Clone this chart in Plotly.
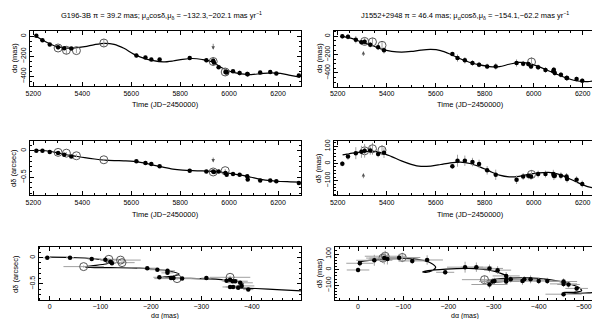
import plotly.graph_objects as go

W, H = 600, 319
FONT = "Liberation Sans"

# ---------------- G196-3B : data ----------------
g_t = [5212, 5237, 5267, 5301, 5326, 5355, 5621, 5658, 5682, 5716, 5839, 5907, 5935,
       5938, 5957, 5985, 5990, 6016, 6043, 6074, 6076, 6127, 6168, 6193, 6285]
g_ra = [5, -40, -83, -110, -120, -123, -193, -213, -233, -233, -217, -240, -245,
        -262, -310, -357, -362, -350, -367, -377, -380, -363, -357, -373, -393]
g_dec = [0.0, 0.0, -0.025, -0.04, -0.075, -0.106, -0.2, -0.23, -0.25, -0.29, -0.375, -0.39, -0.39,
         -0.40, -0.39, -0.42, -0.45, -0.44, -0.45, -0.48, -0.54, -0.56, -0.56, -0.575, -0.61]
g_era = [8, 8, 8, 8, 8, 8, 20, 15, 15, 12, 12, 20, 20, 20, 10, 15, 15, 10, 25, 25, 25, 15, 15, 15, 10]
g_edec = [0.01] * 25

g_ot = [5301, 5335, 5376, 5488, 5935, 5984]
g_ora = [-117, -140, -143, -67, -252, -357]
g_odec = [-0.03, -0.045, -0.094, -0.17, -0.40, -0.375]
g_oera = [20, 40, 25, 40, 45, 40]
g_oedec = [0.02, 0.02, 0.03, 0.02, 0.02, 0.03]

# G196-3B fitted curve
gc_t = [5210, 5250, 5290, 5330, 5370, 5410, 5450, 5490, 5530, 5570, 5610, 5650, 5690, 5730,
        5770, 5810, 5850, 5890, 5930, 5970, 6010, 6050, 6090, 6130, 6170, 6210, 6250, 6290]
gc_ra = [0, -55, -98, -116, -117, -104, -83, -70, -80, -120, -178, -218, -244, -256,
         -247, -230, -222, -232, -255, -315, -356, -375, -383, -373, -365, -371, -390, -408]
gc_dec = [0.01, 0.0, -0.03, -0.07, -0.10, -0.13, -0.155, -0.175, -0.185, -0.19, -0.20, -0.23, -0.27, -0.31,
          -0.345, -0.365, -0.375, -0.38, -0.39, -0.405, -0.43, -0.46, -0.50, -0.54, -0.565, -0.58, -0.585, -0.59]
gc_ext_ra = [-450, -498]
gc_ext_dec = [-0.61, -0.635]

# ---------------- J1552+2948 : data ----------------
j_t = [5219, 5242, 5274, 5297, 5310, 5333, 5365, 5389, 5668, 5689, 5719, 5750, 5777, 5810, 5845,
       5930, 5957, 5978, 5989, 6018, 6048, 6080, 6082, 6086, 6111, 6134, 6136, 6175, 6198, 6291]
j_ra = [0, -4, -36, -65, -58, -91, -120, -153, -193, -237, -262, -291, -309, -328, -328,
        -291, -298, -302, -328, -338, -368, -382, -364, -400, -419, -455, -455, -466, -484, -455]
j_dec = [-2, 41, 60, 68, 74, 76, 56, 62, -17, 16, 16, 8, -3, -40, -66,
         -95, -76, -72, -76, -62, -62, -62, -72, -72, -72, -76, -91, -95, -120, -157]
j_era = [25, 30, 40, 30, 40, 30, 30, 35, 20, 40, 35, 30, 30, 30, 35,
         40, 30, 30, 30, 30, 30, 30, 30, 30, 30, 30, 30, 25, 25, 40]
j_edec = [15, 20, 35, 35, 40, 25, 20, 30, 15, 35, 30, 25, 25, 25, 30,
          25, 20, 20, 20, 20, 20, 25, 25, 20, 20, 20, 20, 20, 20, 15]

j_ot = [5310, 5342, 5381, 5991]
j_ora = [-55, -60, -98, -280]
j_odec = [74, 86, 78, -64]
j_oera = [30, 45, 40, 50]
j_oedec = [30, 35, 30, 25]

jc_t = [5220, 5260, 5300, 5340, 5380, 5420, 5460, 5500, 5540, 5580, 5620, 5660, 5700, 5740,
        5780, 5820, 5860, 5900, 5940, 5980, 6020, 6060, 6100, 6140, 6180, 6220, 6260, 6297]
jc_ra = [0, -25, -65, -100, -140, -163, -172, -165, -150, -143, -155, -195, -245, -285,
         -312, -330, -330, -305, -285, -295, -330, -375, -420, -460, -488, -495, -478, -455]
jc_dec = [50, 60, 68, 72, 62, 40, 15, -5, -17, -15, -6, 4, 8, 0,
          -20, -45, -68, -78, -75, -64, -55, -52, -62, -85, -112, -135, -145, -145]
jc_ext_ra = [-480, -510, -549]
jc_ext_dec = [-152, -148, -140]

# arrows (marked epochs)
g_arrow_t = 5935
g_arrow_ra = [-135, -60]      # head, tail
g_arrow_dec = [-0.22, -0.10]
j_arrow_t = 5305
j_arrow_ra = [-160, -230]
j_arrow_dec = [-56, -95]

titles = ["G196-3B \u03c0 = 39.2 mas; \u03bc<sub>\u03b1</sub>cos\u03b4,\u03bc<sub>\u03b4</sub> = \u2212132.3,\u2212202.1 mas yr<sup>\u22121</sup>",
          "J1552+2948 \u03c0 = 46.4 mas; \u03bc<sub>\u03b1</sub>cos\u03b4,\u03bc<sub>\u03b4</sub> = \u2212154.1,\u221262.2 mas yr<sup>\u22121</sup>"]

# ---------------- layout geometry (pixels) ----------------
def X(px):
    return px / W

def Y(py):
    return 1 - py / H

boxes = {
    1: ((21.7, 293.3), (22.7, 78.3)),
    2: ((326, 598), (22.7, 78.7)),
    3: ((21.7, 293.3), (132.7, 187.3)),
    4: ((326, 598), (132.7, 187.3)),
    5: ((30.7, 293.3), (239, 292)),
    6: ((327, 598), (239, 291.5)),
}

fig = go.Figure()

GREY = "#a0a0a0"

def ax(i):
    return ("x" if i == 1 else f"x{i}"), ("y" if i == 1 else f"y{i}")

def curve(i, x, y):
    xa, ya = ax(i)
    fig.add_trace(go.Scatter(x=x, y=y, mode="lines", xaxis=xa, yaxis=ya,
                             line=dict(color="black", width=1.2, shape="spline", smoothing=0.9),
                             hoverinfo="skip"))

def pts(i, x, y, ex=None, ey=None, filled=True):
    xa, ya = ax(i)
    kw = {}
    if ex is not None:
        kw["error_x"] = dict(type="data", array=ex, color=GREY, thickness=1, width=0)
    if ey is not None:
        kw["error_y"] = dict(type="data", array=ey, color=GREY, thickness=1, width=0)
    if filled:
        marker = dict(color="black", size=4.5, line=dict(width=0))
    else:
        marker = dict(color="#555", size=8, symbol="circle-open", line=dict(color="#555", width=1))
    fig.add_trace(go.Scatter(x=x, y=y, mode="markers", xaxis=xa, yaxis=ya,
                             marker=marker, **kw))

# Panel 1: G196 dα vs time
curve(1, gc_t, gc_ra)
pts(1, g_ot, g_ora, ey=g_oera, filled=False)
pts(1, g_t, g_ra, ey=g_era)
# Panel 2: J1552 dα vs time
curve(2, jc_t, jc_ra)
pts(2, j_ot, j_ora, ey=j_oera, filled=False)
pts(2, j_t, j_ra, ey=j_era)
# Panel 3: G196 dδ vs time
curve(3, gc_t, gc_dec)
pts(3, g_ot, g_odec, ey=g_oedec, filled=False)
pts(3, g_t, g_dec, ey=g_edec)
# Panel 4: J1552 dδ vs time
curve(4, jc_t, jc_dec)
pts(4, j_ot, j_odec, ey=j_oedec, filled=False)
pts(4, j_t, j_dec, ey=j_edec)
# Panel 5: G196 dδ vs dα
curve(5, gc_ra + gc_ext_ra, gc_dec + gc_ext_dec)
pts(5, g_ora, g_odec, ex=g_oera, ey=g_oedec, filled=False)
pts(5, g_ra, g_dec, ex=g_era, ey=g_edec)
# Panel 6: J1552 dδ vs dα
curve(6, jc_ra + jc_ext_ra, jc_dec + jc_ext_dec)
pts(6, j_ora, j_odec, ex=j_oera, ey=j_oedec, filled=False)
pts(6, j_ra, j_dec, ex=j_era, ey=j_edec)

tickfont = dict(family=FONT, size=7, color="black")

def axis_style(dom, rng, tick0, dtick, mdtick, yaxis=False, anchor=None):
    d = dict(domain=dom, range=rng, anchor=anchor, showline=True, linecolor="black", linewidth=1,
             mirror="ticks", ticks="inside", ticklen=4, tickwidth=1, tickcolor="black",
             showgrid=False, zeroline=False, tickfont=tickfont, tickmode="linear",
             tick0=tick0, dtick=dtick,
             minor=dict(ticks="inside", ticklen=2, tickwidth=1, tickcolor="black",
                        dtick=mdtick, tick0=tick0, showgrid=False))
    if yaxis:
        d["tickangle"] = -90
    return d

ranges = {
    1: dict(x=([5185, 6295], 5200, 200, 50), y=([-500, 56], 0, 200, 50)),
    2: dict(x=([5185, 6295], 5200, 200, 50), y=([-550, 62], 0, 200, 50)),
    3: dict(x=([5185, 6295], 5200, 200, 50), y=([-0.84, 0.19], 0, 0.5, 0.1)),
    4: dict(x=([5185, 6295], 5200, 200, 50), y=([-186, 133], 0, 100, 20)),
    5: dict(x=([22, -498], 0, 100, 20), y=([-0.81, 0.206], 0, 0.5, 0.1)),
    6: dict(x=([51, -549], 0, 100, 20), y=([-191, 145], 0, 100, 20)),
}

layout = dict(template="none", width=W, height=H, margin=dict(l=0, r=0, t=0, b=0),
              paper_bgcolor="white", plot_bgcolor="white", showlegend=False,
              font=dict(family=FONT, color="black"))

for i, ((x0, x1), (y0, y1)) in boxes.items():
    xa, ya = ax(i)
    xname = "xaxis" if i == 1 else f"xaxis{i}"
    yname = "yaxis" if i == 1 else f"yaxis{i}"
    rx, tx0, dx, mdx = ranges[i]["x"]
    ry, ty0, dy, mdy = ranges[i]["y"]
    layout[xname] = axis_style([X(x0), X(x1)], rx, tx0, dx, mdx, anchor=ya)
    layout[yname] = axis_style([Y(y1), Y(y0)], ry, ty0, dy, mdy, yaxis=True, anchor=xa)

ann = []

def text(px, py, s, angle=0, size=7.5):
    ann.append(dict(x=X(px), y=Y(py), xref="paper", yref="paper", text=s, showarrow=False,
                    textangle=angle, font=dict(family=FONT, size=size, color="black"),
                    xanchor="center", yanchor="middle", borderpad=0))

text(153, 7, titles[0], size=7.5)
text(457, 7, titles[1], size=7.5)
for i, py in [(1, 96), (2, 96), (3, 206), (4, 206)]:
    cx = (boxes[i][0][0] + boxes[i][0][1]) / 2
    text(cx, py, "Time (JD\u22122450000)")
text(157, 308, "d\u03b1 (mas)", size=7)
text(457, 308, "d\u03b1 (mas)", size=7)
text(6, 50, "d\u03b1 (mas)", angle=-90)
text(311, 50, "d\u03b1 (mas)", angle=-90)
text(6, 160, "d\u03b4 (arcsec)", angle=-90)
text(311, 160, "d\u03b4 (mas)", angle=-90)
text(7, 266, "d\u03b4 (arcsec)", angle=-90)
text(311, 265, "d\u03b4 (mas)", angle=-90)

def arrow(i, t, head, tail):
    xa, ya = ax(i)
    ann.append(dict(x=t, y=head, ax=t, ay=tail, xref=xa, yref=ya, axref=xa, ayref=ya,
                    showarrow=True, arrowhead=2, arrowsize=1.0, arrowwidth=0.7,
                    arrowcolor="#555", text=""))

arrow(1, g_arrow_t, g_arrow_ra[0], g_arrow_ra[1])
arrow(3, g_arrow_t, g_arrow_dec[0], g_arrow_dec[1])
arrow(2, j_arrow_t, j_arrow_ra[0], j_arrow_ra[1])
arrow(4, j_arrow_t, j_arrow_dec[0], j_arrow_dec[1])

layout["annotations"] = ann
fig.update_layout(**layout)
fig.write_html("out.html")
